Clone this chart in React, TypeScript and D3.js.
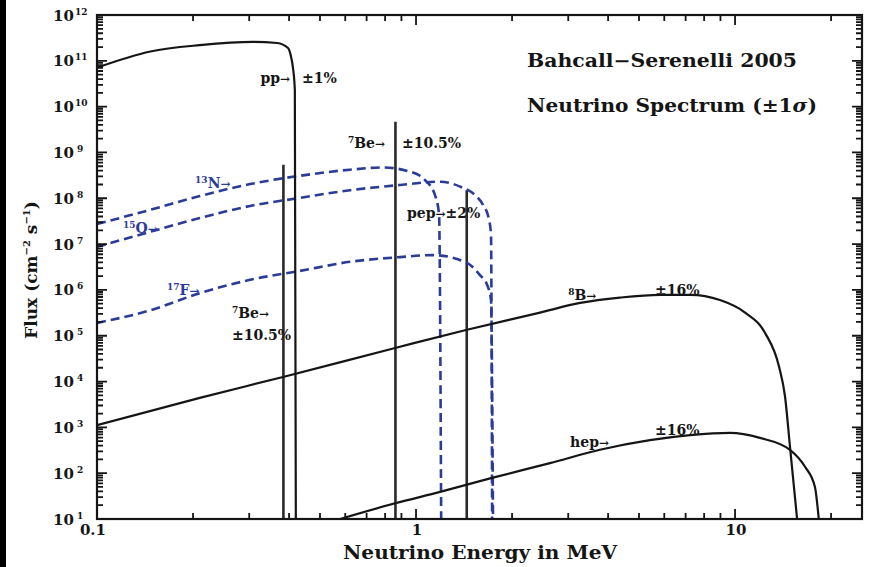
import React from 'react';
import * as d3 from 'd3';

// ---------- data ----------
const ppEnergy = [0.1, 0.147, 0.21, 0.308, 0.367, 0.397, 0.405, 0.411, 0.417, 0.42];
const ppFlux = [7.1e10, 1.6e11, 2.2e11, 2.6e11, 2.45e11, 1.9e11, 1.3e11, 7.4e10, 2.3e10, 10];

const n13Energy = [0.1, 0.147, 0.21, 0.302, 0.433, 0.621, 0.788, 0.958, 1.067, 1.147, 1.181, 1.199];
const n13Flux = [2.75e7, 5.6e7, 1.12e8, 2.04e8, 3.1e8, 4.2e8, 4.7e8, 3.8e8, 2.5e8, 1.17e8, 4.4e7, 10];

const o15Energy = [0.1, 0.147, 0.21, 0.302, 0.433, 0.621, 0.891, 1.19, 1.374, 1.531, 1.622, 1.694, 1.718, 1.732];
const o15Flux = [8.7e6, 1.86e7, 3.7e7, 6.8e7, 1.02e8, 1.5e8, 1.95e8, 2.3e8, 1.8e8, 1.17e8, 7.2e7, 3.4e7, 1.6e7, 10];

const f17Energy = [0.1, 0.147, 0.21, 0.302, 0.433, 0.621, 0.891, 1.13, 1.445, 1.586, 1.67, 1.718, 1.743];
const f17Flux = [1.9e5, 3.6e5, 8.5e5, 1.66e6, 2.6e6, 4.1e6, 5.2e6, 5.75e6, 3.9e6, 2.1e6, 1.3e6, 6.0e5, 10];

const b8Energy = [0.1, 0.21, 0.383, 0.86, 1.445, 2.448, 3.27, 4.36, 5.82, 7.23, 8.97, 10.75, 12.42, 13.74, 14.35, 14.87, 15.65];
const b8Flux = [1.12e3, 4.4e3, 1.26e4, 5.4e4, 1.35e5, 3.2e5, 5.2e5, 6.8e5, 7.8e5, 7.8e5, 6.0e5, 3.2e5, 1.15e5, 2.1e4, 4.6e3, 3.7e2, 10];

const hepEnergy = [0.578, 0.86, 1.19, 1.73, 2.63, 3.77, 5.41, 7.23, 9.64, 11.97, 14.86, 16.57, 17.8, 18.3];
const hepFlux = [10, 22, 39, 79, 166, 324, 525, 676, 759, 589, 324, 138, 50, 10];

// monoenergetic lines: 7Be (0.384), 7Be (0.862), pep (1.442)
const lineEnergy = [0.384, 0.862, 1.442];
const lineFlux = [5.4e8, 4.7e9, 1.5e8];

const xTickValues = [0.1, 1, 10];
const xTickLabels = ['0.1', '1', '10'];
const yExponents = [1, 2, 3, 4, 5, 6, 7, 8, 9, 10, 11, 12];

// ---------- layout ----------
const W = 869;
const H = 567;
const L = 97, R = 862, T = 15, B = 519;
const FONT = '"DejaVu Serif", serif';
const BLUE = '#2b3c98';
const INK = '#151515';

const x = d3.scaleLog().domain([0.1, 25]).range([L, R]);
const y = d3.scaleLog().domain([10, 1e12]).range([B, T]);

const lineGen = d3
  .line<[number, number]>()
  .x((d) => x(d[0]))
  .y((d) => y(d[1]))
  .curve(d3.curveMonotoneX);

const zip = (a: number[], b: number[]): [number, number][] => a.map((v, i) => [v, b[i]]);

const solidSeries = [zip(ppEnergy, ppFlux), zip(b8Energy, b8Flux), zip(hepEnergy, hepFlux)];
const dashedSeries = [zip(n13Energy, n13Flux), zip(o15Energy, o15Flux), zip(f17Energy, f17Flux)];

// ticks as one path (mirrored on all four sides, pointing inward)
function buildTicks(): string {
  const p = d3.path();
  const vx = (v: number, len: number) => {
    const px = x(v);
    p.moveTo(px, B);
    p.lineTo(px, B - len);
    p.moveTo(px, T);
    p.lineTo(px, T + len);
  };
  const hy = (v: number, len: number) => {
    const py = y(v);
    p.moveTo(L, py);
    p.lineTo(L + len, py);
    p.moveTo(R, py);
    p.lineTo(R - len, py);
  };
  xTickValues.forEach((v) => vx(v, 10));
  [0.1, 1, 10].forEach((d) => {
    for (let k = 2; k <= 9; k++) if (k * d <= 25) vx(k * d, 6);
  });
  yExponents.forEach((e) => hy(Math.pow(10, e), 10));
  for (let e = 1; e < 12; e++) for (let k = 2; k <= 9; k++) hy(k * Math.pow(10, e), 6);
  return p.toString();
}
const tickPath = buildTicks();

type Lab = {
  E: number;
  F: number;
  parts: { t: string; sup?: boolean; small?: boolean }[];
  color?: string;
  anchor?: 'start' | 'end';
};

const labels: Lab[] = [
  { E: 0.403, F: 3.3e10, parts: [{ t: 'pp' }, { t: '→', small: true }], anchor: 'end' },
  { E: 0.439, F: 3.3e10, parts: [{ t: '±1%' }] },
  { E: 0.612, F: 1.26e9, parts: [{ t: '7', sup: true }, { t: 'Be' }, { t: '→', small: true }] },
  { E: 0.904, F: 1.26e9, parts: [{ t: '±10.5%' }] },
  { E: 0.937, F: 3.7e7, parts: [{ t: 'pep' }, { t: '→', small: true }, { t: '±2%' }] },
  { E: 0.265, F: 2.45e5, parts: [{ t: '7', sup: true }, { t: 'Be' }, { t: '→', small: true }] },
  { E: 0.265, F: 8.1e4, parts: [{ t: '±10.5%' }] },
  { E: 3.0, F: 6.0e5, parts: [{ t: '8', sup: true }, { t: 'B' }, { t: '→', small: true }] },
  { E: 5.61, F: 7.8e5, parts: [{ t: '±16%' }] },
  { E: 3.04, F: 372, parts: [{ t: 'hep' }, { t: '→', small: true }] },
  { E: 5.61, F: 680, parts: [{ t: '±16%' }] },
  { E: 0.203, F: 1.7e8, parts: [{ t: '13', sup: true }, { t: 'N' }, { t: '→', small: true }], color: BLUE },
  { E: 0.1206, F: 1.74e7, parts: [{ t: '15', sup: true }, { t: 'O' }, { t: '→', small: true }], color: BLUE },
  { E: 0.1658, F: 7.8e5, parts: [{ t: '17', sup: true }, { t: 'F' }, { t: '→', small: true }], color: BLUE },
];

function renderParts(parts: Lab['parts']) {
  const out: React.ReactNode[] = [];
  let raised = false;
  parts.forEach((p, i) => {
    if (p.sup) {
      out.push(
        <tspan key={i} fontSize={9} dy={-5}>
          {p.t}
        </tspan>
      );
      raised = true;
    } else {
      out.push(
        <tspan key={i} fontSize={p.small ? 12 : 14} dy={raised ? 5 : 0}>
          {p.t}
        </tspan>
      );
      raised = false;
    }
  });
  return out;
}

export default function App() {
  return (
    <svg
      width={W}
      height={H}
      viewBox={`0 0 ${W} ${H}`}
      style={{ position: 'absolute', left: 0, top: 0, display: 'block' }}
      fontFamily={FONT}
      fontWeight="bold"
    >
      <rect x={0} y={0} width={W} height={H} fill="#ffffff" />
      <rect x={0} y={0} width={6} height={H} fill="#000000" />
      <defs>
        <clipPath id="plot">
          <rect x={L} y={T} width={R - L} height={B - T} />
        </clipPath>
      </defs>

      <g clipPath="url(#plot)">
        {lineEnergy.map((e, i) => (
          <line
            key={'ml' + i}
            x1={x(e)}
            x2={x(e)}
            y1={y(10)}
            y2={y(lineFlux[i])}
            stroke="#2a2a2a"
            strokeWidth={2.6}
          />
        ))}
        {dashedSeries.map((s, i) => (
          <path
            key={'d' + i}
            d={lineGen(s) || ''}
            fill="none"
            stroke={BLUE}
            strokeWidth={2.6}
            strokeDasharray="9,5"
          />
        ))}
        {solidSeries.map((s, i) => (
          <path key={'s' + i} d={lineGen(s) || ''} fill="none" stroke={INK} strokeWidth={2.2} />
        ))}
      </g>

      <rect x={L} y={T} width={R - L} height={B - T} fill="none" stroke={INK} strokeWidth={2.2} />
      <path d={tickPath} fill="none" stroke={INK} strokeWidth={1.8} />

      {/* y tick labels */}
      {yExponents.map((e) => (
        <text key={'yl' + e} x={53} y={y(Math.pow(10, e)) + 5.5} fontSize={15} fill={INK}>
          10
          <tspan fontSize={9} dx={e >= 10 ? 1 : 3} dy={-6}>
            {e}
          </tspan>
        </text>
      ))}

      {/* x tick labels */}
      {xTickValues.map((v, i) => (
        <text
          key={'xl' + v}
          x={x(v) + (i === 0 ? -4 : 1)}
          y={535}
          fontSize={15}
          textAnchor="middle"
          fill={INK}
        >
          {xTickLabels[i]}
        </text>
      ))}

      {/* axis titles */}
      <text x={343} y={559} fontSize={18} fill={INK} textLength={274} lengthAdjust="spacingAndGlyphs">
        Neutrino Energy in MeV
      </text>
      <text transform="translate(37,270) rotate(-90)" textAnchor="middle" fontSize={17} fill={INK}>
        Flux (cm
        <tspan fontSize={10} dy={-7}>
          −2
        </tspan>
        <tspan dy={7}> s</tspan>
        <tspan fontSize={10} dy={-7}>
          −1
        </tspan>
        <tspan dy={7}>)</tspan>
      </text>

      {/* titles */}
      <text x={527} y={67} fontSize={18} fill={INK} textLength={270} lengthAdjust="spacingAndGlyphs">
        Bahcall−Serenelli 2005
      </text>
      <text x={527} y={112} fontSize={18} fill={INK} textLength={290} lengthAdjust="spacingAndGlyphs">
        Neutrino Spectrum (±1<tspan fontStyle="italic">σ</tspan>)
      </text>

      {/* annotations */}
      {labels.map((lb, i) => (
        <text
          key={'lb' + i}
          x={x(lb.E)}
          y={y(lb.F)}
          fill={lb.color || INK}
          textAnchor={lb.anchor || 'start'}
          fontSize={14}
        >
          {renderParts(lb.parts)}
        </text>
      ))}
    </svg>
  );
}
